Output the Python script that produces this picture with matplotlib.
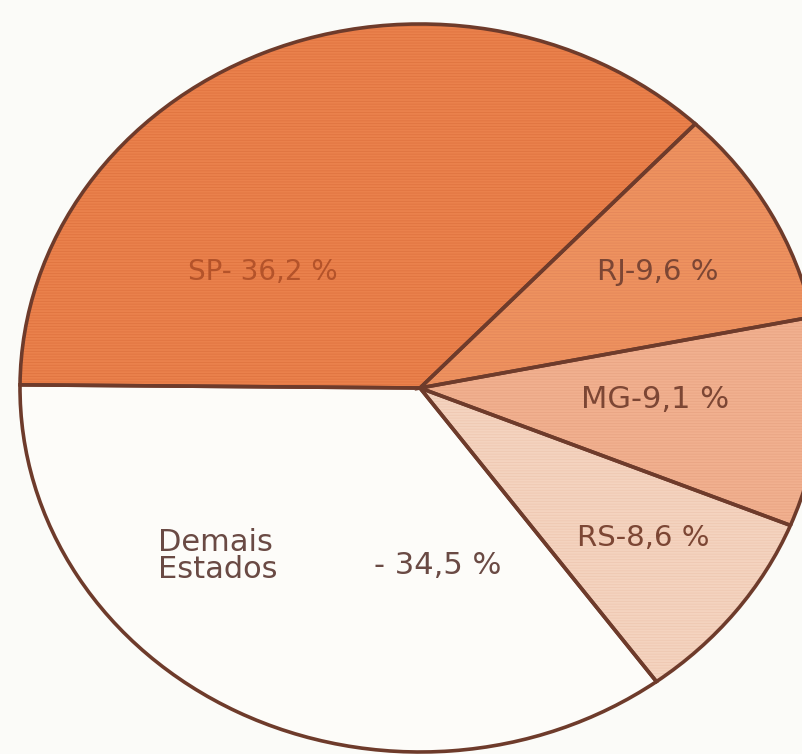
import matplotlib
matplotlib.use("Agg")
import matplotlib.pyplot as plt

# -- Data ---------------------------------------------------------------------
states = ["SP", "RJ", "MG", "RS", "Demais Estados"]
shares = [36.2, 9.6, 9.1, 8.6, 34.5]
labels = ["SP- 36,2 %", "RJ-9,6 %", "MG-9,1 %", "RS-8,6 %", "- 34,5 %"]

colors = ["#EA814C", "#EE925F", "#F1B08F", "#F4D3BF", "#FDFCF9"]
text_colors = ["#B4532A", "#7C4634", "#7C4634", "#7C4634", "#6A4A44"]
edge = "#6E3B2B"

# pixel geometry of the (slightly elliptical) hand drawn pie
W, H = 803, 754
cx, cy = 420, 388
rx, ry = 400, 364

plt.rcParams["hatch.linewidth"] = 0.6

fig = plt.figure(figsize=(W / 100, H / 100), dpi=100, facecolor="#FBFBF8")
ax = fig.add_axes([0, 0, 1, 1])
ax.set_facecolor("#FBFBF8")

# faint horizontal ruling on the shaded slices (drawn under the outlines)
hatched, _ = ax.pie(
    shares,
    colors=colors,
    startangle=179.5,
    counterclock=False,
    radius=1,
    wedgeprops=dict(linewidth=0),
)
for w, c in zip(hatched[:4], ["#E07440", "#E5875A", "#E9A584", "#EFC8B2"]):
    w.set_hatch("------")
    w.set_edgecolor(c)

wedges, _ = ax.pie(
    shares,
    colors=colors,
    startangle=179.5,
    counterclock=False,
    radius=1,
    wedgeprops=dict(edgecolor=edge, linewidth=2.6),
)
for w in wedges:
    w.set_facecolor("none")


def to_data(px, py):
    return (px - cx) / rx, (cy - py) / ry


# stretch so that the pie looks like the reference ellipse
ax.set_aspect("auto")
ax.set_xlim(-cx / rx, (W - cx) / rx)
ax.set_ylim(-(H - cy) / ry, cy / ry)
ax.axis("off")

# -- Labels -------------------------------------------------------------------
label_pos = [(263, 272), (658, 272), (655, 400), (643, 538), (438, 565)]
sizes = [20, 21, 22, 21, 22]
for lab, (px, py), col, fs in zip(labels, label_pos, text_colors, sizes):
    x, y = to_data(px, py)
    ax.text(x, y, lab, ha="center", va="center", fontsize=fs, color=col)

x, y = to_data(158, 556)
ax.text(x, y, "Demais\nEstados", ha="left", va="center", fontsize=22,
        color=text_colors[4], linespacing=0.95)

fig.savefig("out.png", dpi=100, facecolor=fig.get_facecolor())
